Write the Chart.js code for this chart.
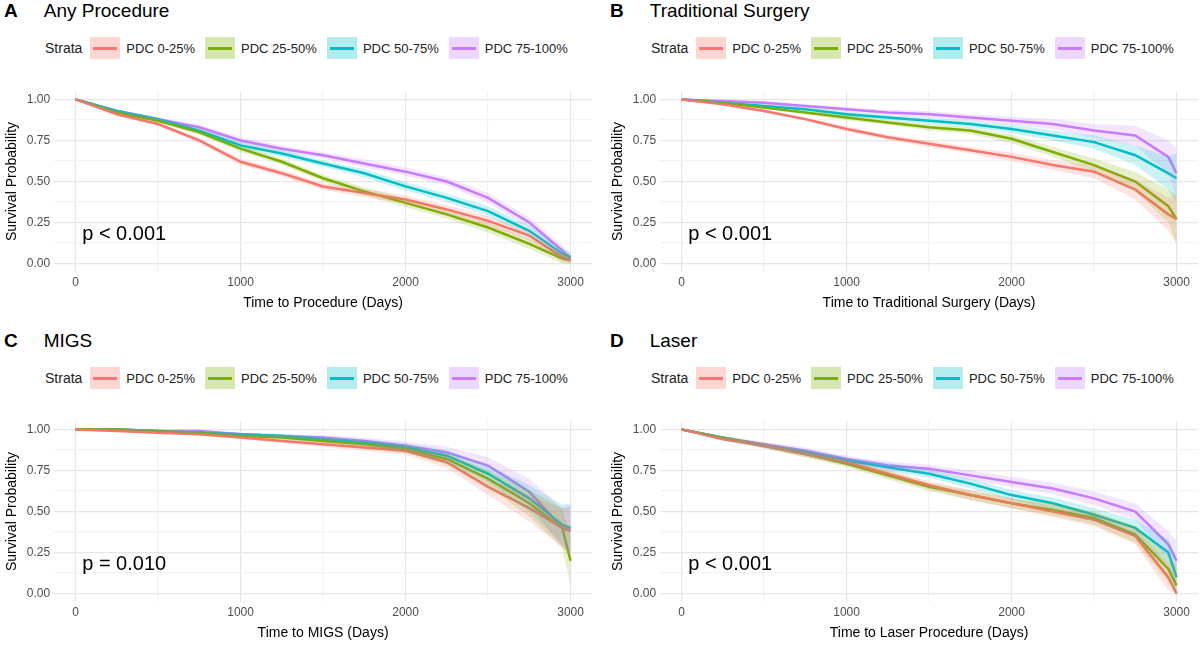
<!DOCTYPE html>
<html><head><meta charset="utf-8">
<script src="https://cdn.jsdelivr.net/npm/chart.js@4"></script>
<style>
body{margin:0;background:#fff;font-family:Arial,"Liberation Sans",sans-serif;}
#wrap{position:relative;width:1200px;height:646px;}
.panel{position:absolute;width:600px;height:323px;}
.title{position:absolute;left:4px;top:0px;font-size:19px;color:#000;}
.title b{margin-right:26px;}
.legend{position:absolute;left:45px;top:37px;font-size:13px;color:#222;display:flex;align-items:center;}
.legend .st{font-size:14px;margin-right:8px;}
.key{display:inline-block;width:30px;height:22px;position:relative;margin-right:6px;}
.key i{position:absolute;left:3px;right:3px;top:10px;height:3px;}
.item{display:flex;align-items:center;margin-right:10px;}
canvas{position:absolute;left:0;top:80px;}
</style></head><body>
<div id="wrap"></div>
<script>
// Dni, w których odczytano wartości z krzywych
const days = [0, 250, 500, 750, 1000, 1250, 1500, 1750, 2000, 2250, 2500, 2750, 2950, 3000];
const strata = ['PDC 0-25%', 'PDC 25-50%', 'PDC 50-75%', 'PDC 75-100%'];
const colors = ['#F8766D', '#7CAE00', '#00BFC4', '#C77CFF'];

// A - Any Procedure
const anyRed    = [1, 0.91, 0.85, 0.75, 0.62, 0.55, 0.47, 0.43, 0.39, 0.33, 0.26, 0.17, 0.04, 0.02];
const anyGreen  = [1, 0.92, 0.87, 0.80, 0.70, 0.62, 0.52, 0.44, 0.37, 0.30, 0.22, 0.12, 0.03, 0.02];
const anyCyan   = [1, 0.93, 0.88, 0.81, 0.72, 0.67, 0.61, 0.55, 0.47, 0.40, 0.32, 0.20, 0.06, 0.04];
const anyPurple = [1, 0.93, 0.88, 0.83, 0.75, 0.70, 0.66, 0.61, 0.56, 0.50, 0.40, 0.25, 0.08, 0.03];
const anyCI     = [0, 0.01, 0.01, 0.015, 0.02, 0.02, 0.02, 0.025, 0.025, 0.025, 0.03, 0.03, 0.03, 0.03];

// B - Traditional Surgery
const tsRed    = [1, 0.97, 0.93, 0.88, 0.82, 0.77, 0.73, 0.69, 0.65, 0.60, 0.56, 0.45, 0.30, 0.27];
const tsGreen  = [1, 0.98, 0.95, 0.92, 0.89, 0.86, 0.83, 0.81, 0.76, 0.68, 0.60, 0.50, 0.35, 0.27];
const tsCyan   = [1, 0.98, 0.96, 0.94, 0.91, 0.89, 0.87, 0.85, 0.82, 0.78, 0.74, 0.66, 0.55, 0.52];
const tsPurple = [1, 0.99, 0.98, 0.96, 0.94, 0.92, 0.91, 0.89, 0.87, 0.85, 0.81, 0.78, 0.65, 0.55];
const tsCI     = [0, 0.005, 0.01, 0.01, 0.015, 0.015, 0.02, 0.02, 0.025, 0.03, 0.04, 0.06, 0.10, 0.15];

// C - MIGS
const migsRed    = [1, 0.99, 0.98, 0.97, 0.95, 0.93, 0.91, 0.89, 0.87, 0.80, 0.65, 0.52, 0.40, 0.38];
const migsGreen  = [1, 1.00, 0.99, 0.98, 0.96, 0.95, 0.93, 0.91, 0.88, 0.82, 0.70, 0.55, 0.40, 0.20];
const migsCyan   = [1, 1.00, 0.99, 0.98, 0.97, 0.96, 0.94, 0.92, 0.89, 0.84, 0.73, 0.58, 0.42, 0.40];
const migsPurple = [1, 1.00, 0.99, 0.99, 0.97, 0.96, 0.95, 0.93, 0.90, 0.86, 0.78, 0.62, 0.40, 0.39];
const migsCI     = [0, 0.003, 0.005, 0.008, 0.01, 0.012, 0.015, 0.02, 0.025, 0.035, 0.05, 0.08, 0.12, 0.15];

// D - Laser
const lasRed    = [1, 0.94, 0.90, 0.85, 0.80, 0.73, 0.66, 0.60, 0.55, 0.50, 0.45, 0.35, 0.10, 0.00];
const lasGreen  = [1, 0.95, 0.90, 0.85, 0.79, 0.72, 0.65, 0.60, 0.55, 0.51, 0.46, 0.36, 0.15, 0.05];
const lasCyan   = [1, 0.95, 0.90, 0.86, 0.81, 0.77, 0.73, 0.67, 0.60, 0.55, 0.48, 0.40, 0.25, 0.10];
const lasPurple = [1, 0.95, 0.91, 0.87, 0.82, 0.78, 0.76, 0.72, 0.68, 0.64, 0.58, 0.50, 0.30, 0.20];
const lasCI     = [0, 0.01, 0.015, 0.02, 0.02, 0.025, 0.025, 0.03, 0.03, 0.035, 0.04, 0.05, 0.08, 0.12];

const xTicks = [0, 500, 1000, 1500, 2000, 2500, 3000];
const yTicks = [0, 0.125, 0.25, 0.375, 0.5, 0.625, 0.75, 0.875, 1];

const panels = [
  {letter: 'A', title: 'Any Procedure', xLabel: 'Time to Procedure (Days)', p: 'p < 0.001', series: [anyRed, anyGreen, anyCyan, anyPurple], ci: anyCI, left: 0, top: 0},
  {letter: 'B', title: 'Traditional Surgery', xLabel: 'Time to Traditional Surgery (Days)', p: 'p < 0.001', series: [tsRed, tsGreen, tsCyan, tsPurple], ci: tsCI, left: 606, top: 0},
  {letter: 'C', title: 'MIGS', xLabel: 'Time to MIGS (Days)', p: 'p = 0.010', series: [migsRed, migsGreen, migsCyan, migsPurple], ci: migsCI, left: 0, top: 330},
  {letter: 'D', title: 'Laser', xLabel: 'Time to Laser Procedure (Days)', p: 'p < 0.001', series: [lasRed, lasGreen, lasCyan, lasPurple], ci: lasCI, left: 606, top: 330}
];

function hexA(h, a) {
  const n = parseInt(h.slice(1), 16);
  return `rgba(${n >> 16},${(n >> 8) & 255},${n & 255},${a})`;
}

// Tekst z p-wartością
const pText = {
  id: 'pText',
  afterDraw(chart, args, opts) {
    const c = chart.ctx;
    c.save();
    c.font = '20px Arial, "Liberation Sans"';
    c.fillStyle = '#000';
    c.textBaseline = 'middle';
    c.fillText(opts.text, chart.scales.x.getPixelForValue(40), chart.scales.y.getPixelForValue(0.18));
    c.restore();
  }
};

const wrap = document.getElementById('wrap');
panels.forEach(pn => {
  const div = document.createElement('div');
  div.className = 'panel';
  div.style.left = pn.left + 'px';
  div.style.top = pn.top + 'px';
  let leg = '<span class="st">Strata</span>';
  strata.forEach((s, i) => {
    leg += `<span class="item"><span class="key" style="background:${hexA(colors[i], 0.3)}"><i style="background:${colors[i]}"></i></span>${s}</span>`;
  });
  div.innerHTML = `<div class="title"><b>${pn.letter}</b>${pn.title}</div><div class="legend">${leg}</div>`;
  const cv = document.createElement('canvas');
  cv.width = 596; cv.height = 232;
  cv.style.width = '596px'; cv.style.height = '232px';
  div.appendChild(cv);
  wrap.appendChild(div);

  const datasets = [];
  pn.series.forEach((s, i) => {
    datasets.push({data: days.map((d, k) => ({x: d, y: Math.min(1, s[k] + pn.ci[k])})), borderWidth: 0, pointRadius: 0, fill: false});
    datasets.push({data: days.map((d, k) => ({x: d, y: Math.max(0, s[k] - pn.ci[k])})), borderWidth: 0, pointRadius: 0, fill: '-1', backgroundColor: hexA(colors[i], 0.2)});
  });
  pn.series.forEach((s, i) => {
    datasets.push({data: days.map((d, k) => ({x: d, y: s[k]})), borderColor: colors[i], borderWidth: 2.5, pointRadius: 0, fill: false});
  });

  new Chart(cv.getContext('2d'), {
    type: 'line',
    data: {datasets},
    plugins: [pText],
    options: {
      responsive: false, animation: false,
      layout: {padding: {left: 0, right: 4, top: 4}},
      plugins: {legend: {display: false}, tooltip: {enabled: false}, pText: {text: pn.p}},
      scales: {
        x: {
          type: 'linear', min: -130, max: 3130,
          afterBuildTicks: ax => { ax.ticks = xTicks.map(v => ({value: v})); },
          ticks: {color: '#4d4d4d', font: {size: 12}, maxRotation: 0, padding: 4, callback: v => (v % 1000 === 0 ? v : '')},
          grid: {color: ctx => (ctx.tick && ctx.tick.value % 1000 === 0 ? '#e6e6e6' : '#f3f3f3'), drawTicks: false, lineWidth: 1.2},
          border: {display: false},
          title: {display: true, text: pn.xLabel, color: '#000', font: {size: 14}, padding: {top: 1, bottom: 0}}
        },
        y: {
          min: -0.05, max: 1.05,
          afterBuildTicks: ax => { ax.ticks = yTicks.map(v => ({value: v})); },
          ticks: {color: '#4d4d4d', font: {size: 12}, padding: 4, callback: v => ([0, 0.25, 0.5, 0.75, 1].includes(v) ? v.toFixed(2) : '')},
          grid: {color: ctx => (ctx.tick && [0, 0.25, 0.5, 0.75, 1].includes(ctx.tick.value) ? '#e6e6e6' : '#f3f3f3'), drawTicks: false, lineWidth: 1.2},
          border: {display: false},
          title: {display: true, text: 'Survival Probability', color: '#000', font: {size: 14}, padding: {bottom: 2}}
        }
      }
    }
  });
});
</script>
</body></html>
